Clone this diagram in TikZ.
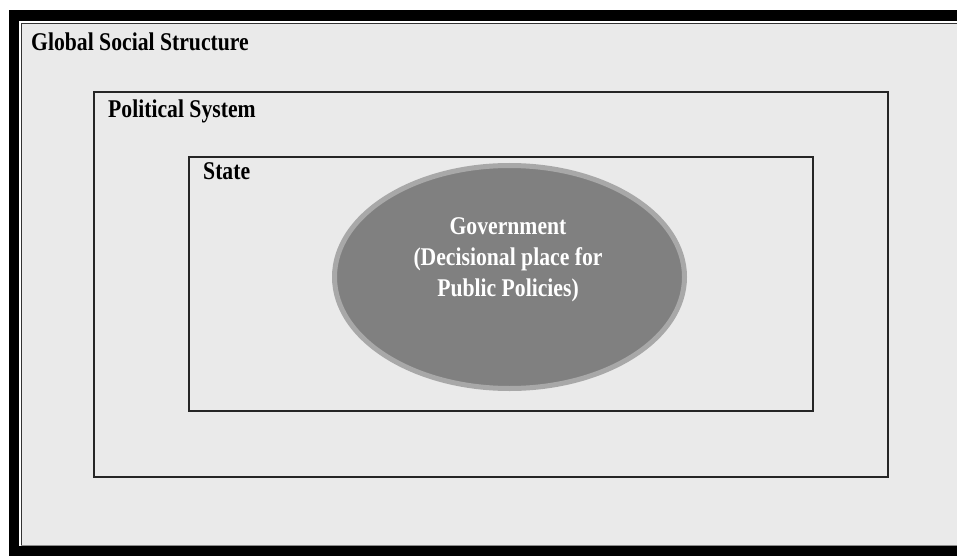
\documentclass[tikz,border=0pt]{standalone}
\usepackage{fontspec}
\setmainfont{Liberation Serif}[FakeStretch=0.85]
\definecolor{bggray}{HTML}{EAEAEA}
\definecolor{ringgray}{HTML}{A8A8A8}
\definecolor{govgray}{HTML}{808080}
\newcommand{\labfont}{\fontsize{25.5}{31}\selectfont\bfseries}
\begin{document}
\begin{tikzpicture}[x=1pt,y=-1pt,
  lab/.style={font=\labfont, inner sep=0pt, anchor=base west, text=black},
  levelbox/.style={draw=black!85, line width=2pt},
  govtext/.style={font=\labfont, inner sep=0pt, align=center, text=white, anchor=north}]
\useasboundingbox (0,0) rectangle (957,556);
\fill[white] (0,0) rectangle (957,556);
% outer frame
\fill[black] (9,10) rectangle (957,556);
\fill[white] (18.5,21) rectangle (957,545.5);
\fill[bggray] (21,23) rectangle (957,545.5);
\draw[black!80, line width=1.3pt] (21.5,546) -- (21.5,23.5) -- (957,23.5);
\draw[black!45, line width=0.8pt] (21,545.8) -- (957,545.8);
% boxes
\node[levelbox, minimum width=794pt, minimum height=385pt, inner sep=0pt, anchor=north west] (pol) at (93,91) {};
\node[levelbox, minimum width=624pt, minimum height=254pt, inner sep=0pt, anchor=north west] (state) at (188,156) {};
% government ellipse
\draw[draw=ringgray, fill=govgray, line width=5pt] (509.5,277) ellipse [x radius=175, y radius=111.5];
\coordinate (govc) at (509.5,277);
% labels
\node[lab] (glab) at (31,51) {Global Social Structure};
\node[lab] (plab) at (108,117.5) {Political System};
\node[lab] (slab) at (203,179) {State};
\node[govtext] (gov) at (508,217) {Government\\(Decisional place for\\Public Policies)};
\end{tikzpicture}
\end{document}
